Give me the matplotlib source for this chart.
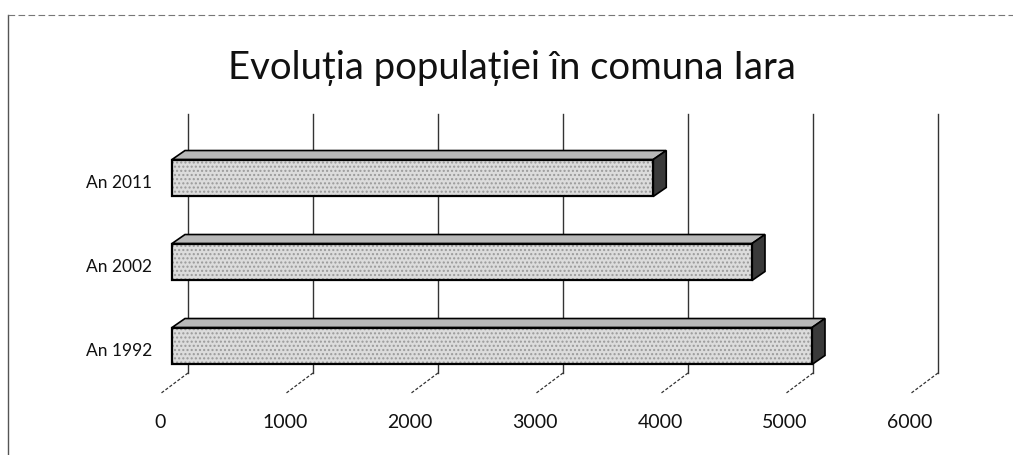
import matplotlib.pyplot as plt
from matplotlib.patches import Polygon, Rectangle
from matplotlib.lines import Line2D

plt.rcParams['font.family'] = ['Lato', 'DejaVu Sans']

# data
categories = ["An 1992", "An 2002", "An 2011"]
population = [5120, 4640, 3850]
ticks = [0, 1000, 2000, 3000, 4000, 5000, 6000]
title = "Evoluția populației în comuna Iara"

W, H, DPI = 1013, 455, 100
fig = plt.figure(figsize=(W / DPI, H / DPI), dpi=DPI)

# axes placed in pixel space (front face of bars), 125 px per 1000
px_left, px_right = 140, 950
px_top, px_bottom = 100, 440
ax = fig.add_axes([px_left / W, 1 - px_bottom / H,
                   (px_right - px_left) / W, (px_bottom - px_top) / H])
x0_px, per_x = 172, 0.125          # value 0 at 172 px
c0_px, per_c = 346, 84             # category 0 centre at 346 px
ax.set_xlim((px_left - x0_px) / per_x, (px_right - x0_px) / per_x)
ax.set_ylim(-(px_bottom - c0_px) / per_c, (c0_px - px_top) / per_c)
ax.axis("off")

# helpers: pixel offsets to data units
def dx(px):
    return px / per_x

def dy(px):
    return px / per_c

floor_back = dy(-(373 - c0_px))
floor_front = dy(-(394 - c0_px))
grid_top = dy(c0_px - 114)

# gridlines on back wall + floor lines
for t in ticks:
    ax.plot([t + dx(16), t + dx(16)], [floor_back, grid_top],
            color="#333333", lw=1.0, zorder=1)
    ax.plot([t + dx(16), t - dx(12)], [floor_back, floor_front],
            color="#333333", lw=0.9, ls=(0, (2.5, 1.5)), zorder=1)
    ax.text(t - dx(12), dy(-(423 - c0_px)), f"{t}", ha="center", va="center",
            fontsize=14, color="#111111")

# 3D bars
h = 0.44
ddx, ddy = dx(13), dy(9)
for i, (cat, v) in enumerate(zip(categories, population)):
    y0, y1 = i - h / 2, i + h / 2
    front = Rectangle((0, y0), v, h, facecolor="#dcdcdc", edgecolor="#9a9a9a",
                      hatch="....", lw=0, zorder=3)
    ax.add_patch(front)
    ax.add_patch(Rectangle((0, y0), v, h, fill=False, edgecolor="black",
                           lw=1.6, zorder=4))
    top = Polygon([(0, y1), (v, y1), (v + ddx, y1 + ddy), (ddx, y1 + ddy)],
                  closed=True, facecolor="#b8b8b8", edgecolor="black",
                  lw=1.2, zorder=3)
    ax.add_patch(top)
    side = Polygon([(v, y0), (v + ddx, y0 + ddy), (v + ddx, y1 + ddy), (v, y1)],
                   closed=True, facecolor="#3a3a3a", edgecolor="black",
                   lw=1.2, zorder=3)
    ax.add_patch(side)
    ax.text(-dx(20), i + dy(-5), cat, ha="right", va="center",
            fontsize=12.5, color="#111111")

fig.text(512 / W, 1 - 68 / H, title, ha="center", va="center",
         fontsize=27.5, color="#111111")

# scanned frame
fig.add_artist(Line2D([8 / W, 8 / W], [0, 1 - 15 / H], transform=fig.transFigure,
                      color="#555555", lw=1))
fig.add_artist(Line2D([8 / W, 1], [1 - 15 / H, 1 - 15 / H], transform=fig.transFigure,
                      color="#777777", lw=0.8, ls=(0, (6, 3))))

fig.savefig("out.png", dpi=DPI)
